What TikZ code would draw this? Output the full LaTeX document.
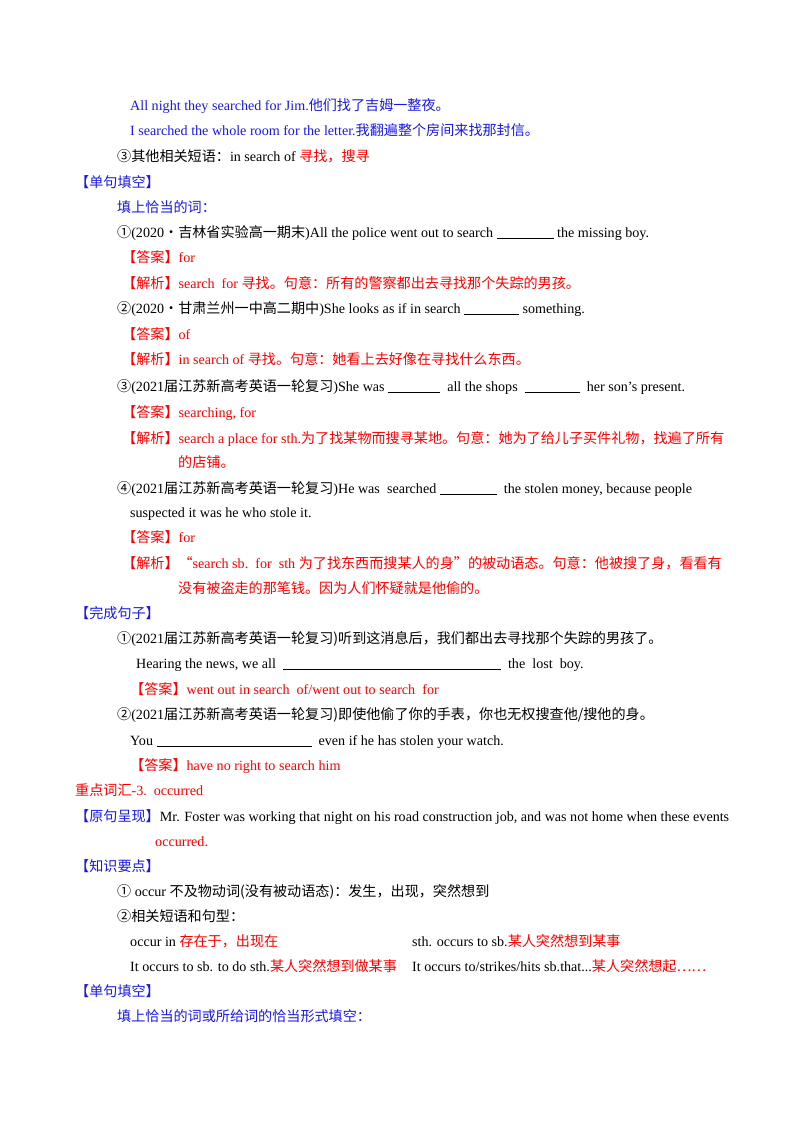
\documentclass[tikz,border=0pt]{standalone}
\usepackage{fontspec}
\setmainfont{Liberation Serif}
\newfontfamily\cjk{Noto Sans CJK SC}
\newcommand{\z}[1]{{\cjk #1}}
\newcommand{\bl}[1]{\rule[-1.5pt]{#1pt}{0.6pt}}
\definecolor{bluet}{RGB}{25,25,225}
\definecolor{redt}{RGB}{250,0,0}
\begin{document}
\begin{tikzpicture}[x=1pt,y=-1pt,
  t/.style={anchor=base west,inner sep=0pt,font=\fontsize{14.1}{16}\selectfont},
  b/.style={t,text=bluet}, r/.style={t,text=redt}]
\useasboundingbox[fill=white] (0,0) rectangle (800,1132);
\node[b] (l1) at (130,110) {All night they searched for Jim.\z{他们找了吉姆一整夜。}};
\node[b] (l2) at (130,135) {I searched the whole room for the letter.\z{我翻遍整个房间来找那封信。}};
\node[t] (l3) at (117,161) {\z{③其他相关短语：}in search of \textcolor{redt}{\z{寻找，搜寻}}};
\node[b] (l4) at (75,187) {\z{【单句填空】}};
\node[b] (l5) at (117,212) {\z{填上恰当的词：}};
\node[t] (l6) at (117,237) {\z{①}(2020\z{·吉林省实验高一期末})All the police went out to search \bl{57} the missing boy.};
\node[r] (l7) at (122,262) {\z{【答案】}for};
\node[r] (l8) at (122,288) {\z{【解析】}search\ \ for \z{寻找。句意：所有的警察都出去寻找那个失踪的男孩。}};
\node[t] (l9) at (117,313) {\z{②}(2020\z{·甘肃兰州一中高二期中})She looks as if in search \bl{55} something.};
\node[r] (l10) at (122,339) {\z{【答案】}of};
\node[r] (l11) at (122,364) {\z{【解析】}in search of \z{寻找。句意：她看上去好像在寻找什么东西。}};
\node[t] (l12) at (117,391) {\z{③}(2021\z{届江苏新高考英语一轮复习})She was \bl{52}\ \ all the shops \ \bl{55}\ \ her son’s present.};
\node[r] (l13) at (122,417) {\z{【答案】}searching, for};
\node[r] (l14) at (122,443) {\z{【解析】}search a place for sth.\z{为了找某物而搜寻某地。句意：她为了给儿子买件礼物，找遍了所有}};
\node[r] (l15) at (178,467) {\z{的店铺。}};
\node[t] (l16) at (117,493) {\z{④}(2021\z{届江苏新高考英语一轮复习})He was\ \ searched \bl{57}\ \ the stolen money, because people};
\node[t] (l17) at (130,517) {suspected it was he who stole it.};
\node[r] (l18) at (122,542) {\z{【答案】}for};
\node[r] (l19) at (122,568) {\z{【解析】“}search sb.\ \ for\ \ sth \z{为了找东西而搜某人的身”的被动语态。句意：他被搜了身，看看有}};
\node[r] (l20) at (178,593) {\z{没有被盗走的那笔钱。因为人们怀疑就是他偷的。}};
\node[b] (l21) at (75,618) {\z{【完成句子】}};
\node[t] (l22) at (117,643) {\z{①}(2021\z{届江苏新高考英语一轮复习)听到这消息后，我们都出去寻找那个失踪的男孩了。}};
\node[t] (l23) at (136,668) {Hearing the news, we all\ \ \bl{218}\ \ the\ \ lost\ \ boy.};
\node[r] (l24) at (130,694) {\z{【答案】}went out in search\ \ of/went out to search\ \ for};
\node[t] (l25) at (117,719) {\z{②}(2021\z{届江苏新高考英语一轮复习)即使他偷了你的手表，你也无权搜查他/搜他的身。}};
\node[t] (l26) at (130,745) {You \bl{155}\ \ even if he has stolen your watch.};
\node[r] (l27) at (130,770) {\z{【答案】}have no right to search him};
\node[r] (l28) at (75,795) {\z{重点词汇}-3.\ \ occurred};
\node[t] (l29) at (75,821) {\textcolor{bluet}{\z{【原句呈现】}}Mr. Foster was working that night on his road construction job, and was not home when these events};
\node[r] (l30) at (155,846) {occurred.};
\node[b] (l31) at (75,871) {\z{【知识要点】}};
\node[t] (l32) at (117,896) {\z{①} occur \z{不及物动词(没有被动语态)：发生，出现，突然想到}};
\node[t] (l33) at (117,921) {\z{②相关短语和句型：}};
\node[t] (l34) at (130,946) {occur in \textcolor{redt}{\z{存在于，出现在}}};
\node[t] (l35) at (412,946) {sth. occurs to sb.\textcolor{redt}{\z{某人突然想到某事}}};
\node[t] (l36) at (130,971) {It occurs to sb. to do sth.\textcolor{redt}{\z{某人突然想到做某事}}};
\node[t] (l37) at (412,971) {It occurs to/strikes/hits sb.that...\textcolor{redt}{\z{某人突然想起……}}};
\node[b] (l38) at (75,996) {\z{【单句填空】}};
\node[b] (l39) at (117,1021) {\z{填上恰当的词或所给词的恰当形式填空：}};
\end{tikzpicture}
\end{document}
